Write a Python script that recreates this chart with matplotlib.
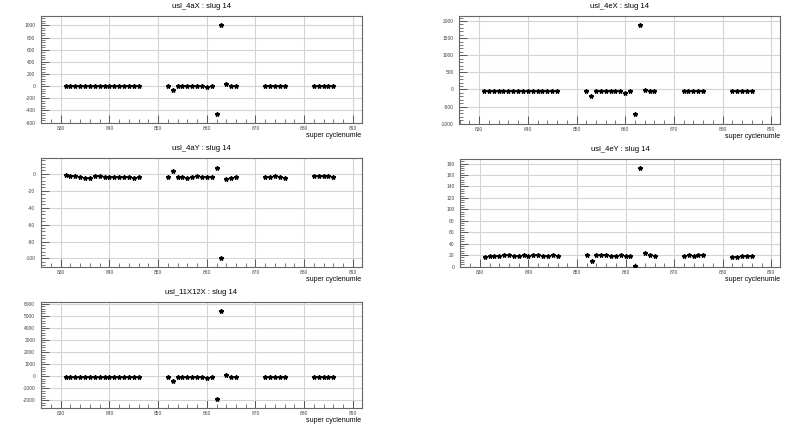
import matplotlib
matplotlib.use("Agg")
import matplotlib.pyplot as plt
from matplotlib.ticker import MultipleLocator, AutoMinorLocator

plt.rcParams['font.family'] = ['Liberation Sans', 'DejaVu Sans']
plt.rcParams['axes.unicode_minus'] = False

# numero de super ciclo (eje x comun)
ciclos = [831, 832, 833, 834, 835, 836, 837, 838, 839, 840, 841, 842, 843, 844, 845, 846,
          852, 853, 854, 855, 856, 857, 858, 859, 860, 861, 862, 863, 864, 865, 866,
          872, 873, 874, 875, 876,
          882, 883, 884, 885, 886]

usl_4aX = [10, 8, 8, 2, -3, 2, 5, 5, 8, 10, 8, 8, 2, 8, 10, 8,
           10, -55, 5, 5, 5, 8, -2, 5, -8, 5, -460, 1000, 30, 10, 10,
           5, -2, 5, 8, 5,
           10, -2, 5, 5, 5]

usl_4eX = [-55, -55, -55, -55, -55, -55, -55, -55, -55, -55, -55, -55, -55, -55, -55, -55,
           -55, -195, -55, -55, -55, -55, -55, -55, -90, -55, -730, 1875, -10, -55, -55,
           -55, -55, -55, -55, -55,
           -55, -55, -55, -55, -55]

usl_4aY = [-1.6, -2.4, -2.8, -3.6, -4.4, -4.4, -2.4, -2.4, -3.6, -3.6, -4.0, -3.6, -3.2, -3.2, -4.4, -3.6,
           -3.6, 3.6, -3.6, -3.6, -4.4, -3.2, -2.0, -3.6, -3.6, -3.2, 7.0, -99, -6.3, -4.8, -3.6,
           -3.2, -3.6, -2.4, -4.0, -4.4,
           -2.8, -2.8, -2.8, -2.4, -3.6]

usl_4eY = [16.5, 18.2, 18.8, 19.4, 21, 21, 18, 18, 20, 19.4, 20, 20, 19.4, 18.8, 21, 19.4,
           20.6, 9, 20, 20, 20.6, 18.8, 18.2, 20, 19.4, 18.8, 1.2, 172, 24, 21, 19.4,
           19.4, 20, 18.8, 20, 20.6,
           17.6, 17.6, 18.2, 18.2, 19.4]

usl_11X12X = [-50, -50, -50, -50, -50, -50, -50, -50, -50, -50, -50, -50, -50, -50, -50, -50,
              -50, -380, -50, -50, -50, -50, -50, -50, -110, -50, -1920, 5400, 140, -50, -50,
              -50, -50, -50, -50, -50,
              -50, -50, -50, -50, -50]

paneles = [
    ("usl_4aX : slug 14", usl_4aX, (-606, 1158), 200, [0.051, 0.7106, 0.401, 0.252]),
    ("usl_4eX : slug 14", usl_4eX, (-1010, 2146), 500, [0.574, 0.7082, 0.401, 0.254]),
    ("usl_4aY : slug 14", usl_4aY, (-110, 18.6), 20, [0.051, 0.372, 0.401, 0.256]),
    ("usl_4eY : slug 14", usl_4eY, (-0.5, 188), 20, [0.575, 0.372, 0.400, 0.254]),
    ("usl_11X12X : slug 14", usl_11X12X, (-2630, 6137), 1000, [0.051, 0.040, 0.401, 0.249]),
]

fig = plt.figure(figsize=(8, 4.25), dpi=100)

for titulo, valores, ylim, paso, pos in paneles:
    ax = fig.add_axes(pos)
    ax.plot(ciclos, valores, linestyle='none', marker='*', markersize=3.2,
            color='black', zorder=3)
    ax.set_xlim(825.9, 891.8)
    ax.set_ylim(*ylim)
    ax.xaxis.set_major_locator(MultipleLocator(10))
    ax.xaxis.set_minor_locator(AutoMinorLocator(5))
    ax.yaxis.set_major_locator(MultipleLocator(paso))
    ax.yaxis.set_minor_locator(AutoMinorLocator(5))
    ax.grid(True, which='major', color='#d4d4d4', linewidth=0.8)
    ax.set_axisbelow(True)
    ax.tick_params(which='both', direction='in', labelsize=3.5, colors='#444444',
                   top=False, right=False)
    ax.tick_params(axis='x', which='both', pad=2)
    ax.tick_params(axis='y', which='both', pad=4)
    ax.tick_params(which='major', length=6, width=0.6)
    ax.tick_params(which='minor', length=3, width=0.5)
    for s in ax.spines.values():
        s.set_color('#666666')
        s.set_linewidth(0.8)
    ax.set_title(titulo, fontsize=5.5, pad=6)
    ax.set_xlabel("super cyclenumle", fontsize=5, loc='right', labelpad=1)

fig.savefig("out.png", dpi=100)
